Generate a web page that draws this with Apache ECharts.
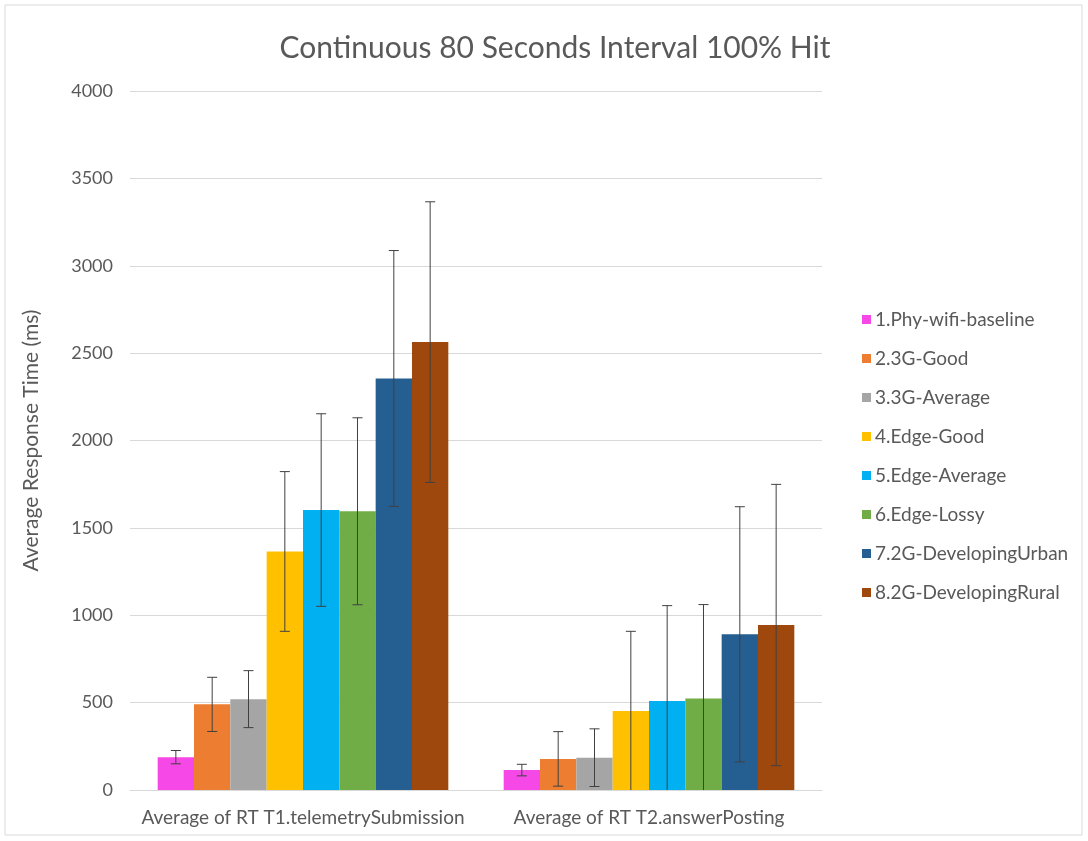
<!DOCTYPE html>
<html>
<head>
<meta charset="utf-8">
<script src="https://cdn.jsdelivr.net/npm/echarts@6/dist/echarts.min.js"></script>
<style>
html,body{margin:0;padding:0;background:#fff;}
#chart{width:1088px;height:841px;}
</style>
</head>
<body>
<div id="chart"></div>
<script>
const categories = ['Average of RT T1.telemetrySubmission', 'Average of RT T2.answerPosting'];
const seriesNames = ['1.Phy-wifi-baseline', '2.3G-Good', '3.3G-Average', '4.Edge-Good', '5.Edge-Average', '6.Edge-Lossy', '7.2G-DevelopingUrban', '8.2G-DevelopingRural'];
const seriesColors = ['#F548E6', '#ED7D31', '#A5A5A5', '#FFC000', '#00B0F0', '#70AD47', '#255E91', '#9E480E'];
// mean values per series: [T1, T2]
const means = [
  [188, 114],
  [490, 178],
  [520, 185],
  [1365, 452],
  [1602, 509],
  [1595, 524],
  [2355, 891],
  [2563, 944]
];
// error (± deviation) per series: [T1, T2]
const errors = [
  [38, 33],
  [155, 156],
  [163, 165],
  [457, 456],
  [551, 546],
  [535, 537],
  [732, 730],
  [803, 805]
];
const yTicks = [0, 500, 1000, 1500, 2000, 2500, 3000, 3500, 4000];

const CAT_GAP = 0.16;
const textColor = '#595959';
const fontFam = 'Lato, "Open Sans", sans-serif';

const barSeries = seriesNames.map((name, i) => ({
  name: name,
  type: 'bar',
  data: means[i],
  barGap: '0%',
  barCategoryGap: (CAT_GAP * 100) + '%',
  itemStyle: { color: seriesColors[i] },
  z: 2
}));

const errData = [];
seriesNames.forEach((n, s) => {
  categories.forEach((c, ci) => {
    const lo = means[s][ci] - errors[s][ci];
    errData.push([ci, s, Math.max(0, lo), means[s][ci] + errors[s][ci], lo < 0 ? 1 : 0]);
  });
});

const errSeries = {
  type: 'custom',
  name: 'err',
  data: errData,
  z: 10,
  silent: true,
  encode: { x: 0, y: [2, 3] },
  renderItem: function (params, api) {
    const ci = api.value(0);
    const s = api.value(1);
    const clipped = api.value(4) === 1;
    const catW = api.size([1, 0])[0];
    const barW = catW * (1 - CAT_GAP) / seriesNames.length;
    const center = api.coord([ci, 0])[0];
    const x = center + (s - (seriesNames.length - 1) / 2) * barW;
    const yLo = api.coord([ci, api.value(2)])[1];
    const yHi = api.coord([ci, api.value(3)])[1];
    const cap = 5;
    const st = { stroke: '#404040', lineWidth: 1 };
    const children = [
      { type: 'line', shape: { x1: x, y1: yHi, x2: x, y2: yLo }, style: st },
      { type: 'line', shape: { x1: x - cap, y1: yHi, x2: x + cap, y2: yHi }, style: st }
    ];
    if (!clipped) {
      children.push({ type: 'line', shape: { x1: x - cap, y1: yLo, x2: x + cap, y2: yLo }, style: st });
    }
    return { type: 'group', children: children };
  }
};

const chart = echarts.init(document.getElementById('chart'), null, { renderer: 'canvas' });
chart.setOption({
  animation: false,
  backgroundColor: '#fff',
  textStyle: { fontFamily: fontFam },
  title: {
    text: 'Continuous 80 Seconds Interval 100% Hit',
    left: 550,
    textAlign: 'center',
    top: 28,
    textStyle: { fontSize: 30, fontWeight: 'normal', color: textColor, fontFamily: fontFam }
  },
  graphic: [{
    type: 'rect',
    shape: { x: 5, y: 5, width: 1077, height: 830 },
    style: { fill: null, stroke: '#d9d9d9', lineWidth: 1 },
    silent: true
  }],
  legend: {
    orient: 'vertical',
    left: 857,
    top: 305,
    itemWidth: 9,
    itemHeight: 9,
    itemGap: 20,
    icon: 'rect',
    data: seriesNames,
    textStyle: { fontSize: 19, color: textColor, fontFamily: fontFam, padding: [0, 0, 0, -1] }
  },
  grid: { left: 130, right: 266, top: 91, bottom: 51, containLabel: false },
  xAxis: {
    type: 'category',
    data: categories,
    axisLine: { show: true, lineStyle: { color: '#d9d9d9' } },
    axisTick: { show: false },
    axisLabel: { color: textColor, fontSize: 19, margin: 18, interval: 0, fontFamily: fontFam }
  },
  yAxis: {
    type: 'value',
    min: yTicks[0],
    max: yTicks[yTicks.length - 1],
    interval: yTicks[1] - yTicks[0],
    name: 'Average Response Time (ms)',
    nameLocation: 'middle',
    nameGap: 88,
    nameTextStyle: { color: textColor, fontSize: 21, fontFamily: fontFam },
    axisLine: { show: false },
    axisTick: { show: false },
    axisLabel: { color: textColor, fontSize: 18, margin: 17, fontFamily: fontFam, formatter: function (v) { return String(v); } },
    splitLine: { lineStyle: { color: '#d9d9d9' } }
  },
  series: barSeries.concat([errSeries])
});
</script>
</body>
</html>
